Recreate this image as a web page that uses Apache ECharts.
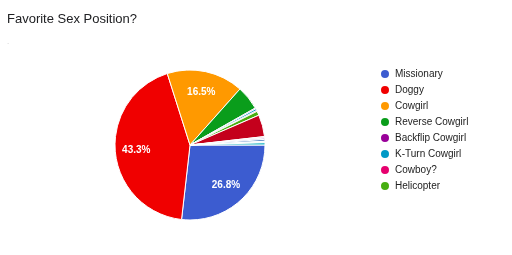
<!DOCTYPE html>
<html>
<head>
<meta charset="utf-8">
<script src="https://cdn.jsdelivr.net/npm/echarts@6/dist/echarts.min.js"></script>
<style>
html,body{margin:0;padding:0;background:#fff;}
#chart{width:512px;height:255px;}
</style>
</head>
<body>
<div id="chart"></div>
<script>
// Data (percent of responses)
const categories = ['Missionary', 'Doggy', 'Cowgirl', 'Reverse Cowgirl', 'Backflip Cowgirl',
  'K-Turn Cowgirl', 'Cowboy?', 'Helicopter', 'Other 1', 'Other 2', 'Other 3', 'Other 4', 'Other 5', 'Other 6'];
const values = [26.8, 43.3, 16.5, 5.2, 0.2, 0.4, 0.2, 0.9, 4.7, 0.3, 0.3, 0.4, 0.3, 0.5];
const legendNames = categories.slice(0, 8);
const colors = ['#3c5cd0', '#f00000', '#ff9900', '#0a9d1b', '#990099', '#0099c6', '#e6006e', '#46ae10',
  '#c4001c', '#f3c6d4', '#b6a5dc', '#3d72b8', '#e3f3f3', '#1fb5c4'];

const pieData = categories.map((n, i) => ({ name: n, value: values[i], itemStyle: { color: colors[i] } }));
const labelData = categories.map((n, i) => ({ name: n, value: values[i] }));

const chart = echarts.init(document.getElementById('chart'), null, { renderer: 'canvas' });
chart.setOption({
  animation: false,
  backgroundColor: '#fff',
  title: {
    text: 'Favorite Sex Position?',
    left: 2,
    top: 8,
    textStyle: { fontFamily: 'Liberation Sans, Arial, sans-serif', fontSize: 13, fontWeight: 'normal', color: '#202124' },
    subtext: '.',
    subtextStyle: { fontFamily: 'Liberation Sans, Arial, sans-serif', fontSize: 8, color: '#c8c8c8' },
    itemGap: 12
  },
  legend: {
    data: legendNames,
    orient: 'vertical',
    left: 374,
    top: 63,
    icon: 'circle',
    itemWidth: 10,
    itemHeight: 10,
    itemGap: 4,
    textStyle: { fontFamily: 'Liberation Sans, Arial, sans-serif', fontSize: 10, color: '#222', lineHeight: 12 },
    selectedMode: false
  },
  series: [
    {
      type: 'pie',
      center: [190, 145],
      radius: 75,
      startAngle: 0,
      clockwise: true,
      data: pieData,
      percentPrecision: 1,
      label: { show: false },
      labelLine: { show: false },
      itemStyle: { borderColor: '#fff', borderWidth: 1 },
      emphasis: { disabled: true }
    },
    {
      type: 'pie',
      center: [190, 145],
      radius: [0, 102],
      startAngle: 0,
      clockwise: true,
      data: labelData,
      percentPrecision: 1,
      silent: true,
      minShowLabelAngle: 30,
      itemStyle: { color: 'transparent', borderWidth: 0 },
      label: {
        show: true,
        position: 'inside',
        formatter: '{d}%',
        color: '#fff',
        fontFamily: 'Liberation Sans, Arial, sans-serif',
        fontSize: 10,
        fontWeight: 'bold'
      },
      labelLine: { show: false },
      emphasis: { disabled: true }
    }
  ]
});
</script>
</body>
</html>
